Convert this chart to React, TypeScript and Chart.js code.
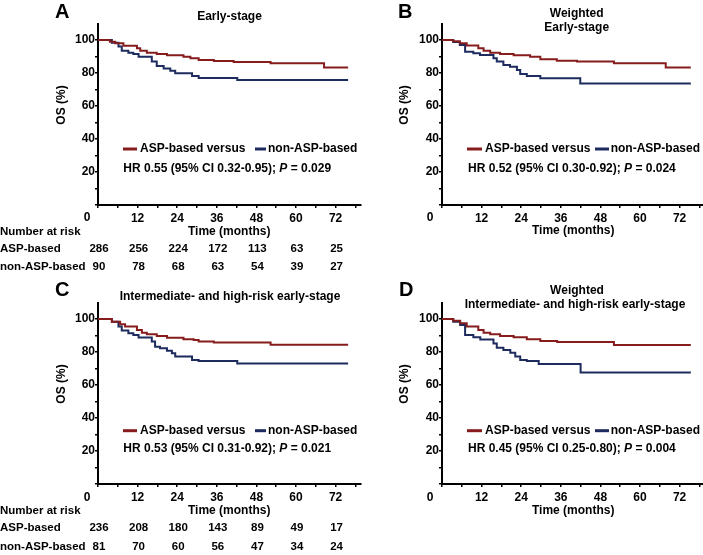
import React, { useEffect, useRef } from 'react';
import { Chart, registerables } from 'chart.js';

Chart.register(...registerables);

const FONT = '"Liberation Sans", Arial, Helvetica, sans-serif';
const RED = '#861c1c';
const BLUE = '#1d2b5e';

// ---------- shared labels ----------
const groupLabels = ['ASP-based versus', 'non-ASP-based'];
const riskRowLabels = ['Number at risk', 'ASP-based', 'non-ASP-based'];
const riskTimes = [0, 12, 24, 36, 48, 60, 72];
const xTickValues = [0, 6, 12, 18, 24, 30, 36, 42, 48, 54, 60, 66, 72, 78];
const yTickValues = [0, 10, 20, 30, 40, 50, 60, 70, 80, 90, 100];
const X_MAX = 79.5;
const Y_MAX = 110;

// ---------- Panel A: Early-stage ----------
const titleA = ['Early-stage'];
const redA_t = [0, 3.6, 5.2, 7.7, 11.8, 12.8, 14.8, 17.8, 20.9, 25.9, 28.0, 30.5, 35.1, 41.1, 52.3, 68.5, 75.8];
const redA_s = [100, 99.0, 98.0, 96.5, 95.0, 93.5, 92.3, 91.5, 90.7, 89.9, 88.9, 87.9, 87.3, 86.7, 85.9, 83.4, 83.4];
const blueA_t = [0, 4.2, 6.2, 7.2, 9.2, 10.7, 12.3, 16.3, 17.8, 19.9, 21.9, 23.4, 28.5, 30.5, 42.2, 75.8];
const blueA_s = [100, 98.4, 96.0, 93.5, 92.3, 91.5, 89.9, 86.9, 84.2, 82.8, 81.4, 79.8, 78.2, 77.0, 75.8, 75.8];
const hrA = ['HR 0.55 (95% CI 0.32-0.95); ', 'P', ' = 0.029'];
const riskA_asp = [286, 256, 224, 172, 113, 63, 25];
const riskA_non = [90, 78, 68, 63, 54, 39, 27];

// ---------- Panel B: Weighted Early-stage ----------
const titleB = ['Weighted', 'Early-stage'];
const redB_t = [0, 3.4, 5.4, 7.5, 11.0, 12.6, 14.6, 17.6, 21.7, 26.7, 29.8, 34.8, 40.9, 52.1, 67.8, 75.4];
const redB_s = [100, 99.2, 98.0, 96.6, 95.0, 93.5, 92.3, 91.5, 90.7, 89.9, 88.3, 87.5, 86.9, 85.9, 83.4, 83.4];
const blueB_t = [0, 3.4, 5.4, 7.0, 9.5, 11.5, 15.6, 16.6, 18.6, 20.6, 22.7, 23.7, 25.7, 29.8, 41.9, 75.4];
const blueB_s = [100, 98.8, 97.0, 92.9, 91.9, 90.9, 88.9, 86.9, 84.8, 83.8, 81.8, 79.4, 78.2, 76.8, 73.7, 73.7];
const hrB = ['HR 0.52 (95% CI 0.30-0.92); ', 'P', ' = 0.024'];

// ---------- Panel C: Intermediate- and high-risk early-stage ----------
const titleC = ['Intermediate- and high-risk early-stage'];
const redC_t = [0, 4.2, 6.7, 8.2, 11.8, 13.3, 14.8, 17.8, 20.9, 25.9, 29.0, 30.5, 35.1, 52.3, 75.8];
const redC_s = [100, 98.4, 96.8, 95.4, 93.3, 91.7, 90.7, 89.7, 88.6, 87.8, 87.3, 86.3, 85.7, 84.4, 84.4];
const blueC_t = [0, 4.2, 6.2, 7.2, 9.2, 10.7, 12.3, 16.3, 17.3, 18.8, 20.9, 22.4, 23.4, 28.5, 30.5, 42.2, 75.8];
const blueC_s = [100, 98.4, 95.4, 93.0, 91.3, 90.3, 88.8, 86.3, 83.2, 82.2, 80.8, 79.2, 77.2, 75.2, 74.5, 73.1, 73.1];
const hrC = ['HR 0.53 (95% CI 0.31-0.92); ', 'P', ' = 0.021'];
const riskC_asp = [236, 208, 180, 143, 89, 49, 17];
const riskC_non = [81, 70, 60, 56, 47, 34, 24];

// ---------- Panel D: Weighted intermediate- and high-risk ----------
const titleD = ['Weighted', 'Intermediate- and high-risk early-stage'];
const redD_t = [0, 3.4, 5.5, 7.5, 11.0, 12.6, 14.6, 17.6, 21.7, 25.7, 29.8, 34.9, 52.1, 75.4];
const redD_s = [100, 99.0, 97.4, 95.4, 93.3, 91.7, 90.7, 89.7, 88.9, 87.8, 86.6, 86.0, 84.2, 84.2];
const blueD_t = [0, 3.4, 5.5, 7.0, 9.5, 11.6, 15.6, 16.6, 18.6, 20.7, 22.2, 23.7, 25.7, 29.3, 42.0, 75.4];
const blueD_s = [100, 98.4, 96.4, 90.3, 88.9, 87.6, 85.2, 82.6, 81.2, 79.6, 77.2, 75.2, 74.5, 72.8, 67.6, 67.6];
const hrD = ['HR 0.45 (95% CI 0.25-0.80); ', 'P', ' = 0.004'];

type PanelCfg = {
  left: number; top: number; w: number; h: number;
  plotLeft: number; plotTop: number; plotBottom: number; plotWidth: number;
  letter: string; letterX: number; letterY: number;
  titles: string[]; titleX: number[]; titleY: number[];
  osX: number; osY: number;
  legY: number; redSeg: [number, number]; redTextX: number; blueSeg: [number, number]; blueTextX: number;
  hr: string[]; hrX: number; hrY: number;
  zeroX: number; zeroY: number; timeY: number;
  redT: number[]; redS: number[]; blueT: number[]; blueS: number[];
  risk?: { asp: number[]; non: number[]; y: number[] };
};

const PLOT_W = X_MAX * 3.3;

const panels: PanelCfg[] = [
  {
    left: 0, top: 0, w: 362, h: 280, plotLeft: 98, plotTop: 23.5, plotBottom: 205, plotWidth: PLOT_W,
    letter: 'A', letterX: 55, letterY: 12,
    titles: titleA, titleX: [229.5], titleY: [17],
    osX: 62, osY: 105,
    legY: 149, redSeg: [123, 137], redTextX: 140, blueSeg: [255, 266], blueTextX: 268,
    hr: hrA, hrX: 123.3, hrY: 168.5,
    zeroX: 87, zeroY: 218, timeY: 231.7,
    redT: redA_t, redS: redA_s, blueT: blueA_t, blueS: blueA_s,
    risk: { asp: riskA_asp, non: riskA_non, y: [231.7, 249.3, 267.3] },
  },
  {
    left: 352, top: 0, w: 353, h: 280, plotLeft: 90, plotTop: 23.5, plotBottom: 205, plotWidth: PLOT_W,
    letter: 'B', letterX: 46, letterY: 12,
    titles: titleB, titleX: [224.7, 224.7], titleY: [14, 28],
    osX: 53, osY: 105,
    legY: 149, redSeg: [115, 130], redTextX: 133, blueSeg: [243, 257], blueTextX: 258.7,
    hr: hrB, hrX: 116, hrY: 168.3,
    zeroX: 78, zeroY: 218, timeY: 230.7,
    redT: redB_t, redS: redB_s, blueT: blueB_t, blueS: blueB_s,
  },
  {
    left: 0, top: 280, w: 362, h: 275, plotLeft: 98, plotTop: 22.5, plotBottom: 204, plotWidth: PLOT_W,
    letter: 'C', letterX: 55, letterY: 10,
    titles: titleC, titleX: [230], titleY: [17],
    osX: 62, osY: 104,
    legY: 150.7, redSeg: [123, 137], redTextX: 140, blueSeg: [255, 266], blueTextX: 268,
    hr: hrC, hrX: 123.3, hrY: 168.3,
    zeroX: 87, zeroY: 217.7, timeY: 230.7,
    redT: redC_t, redS: redC_s, blueT: blueC_t, blueS: blueC_s,
    risk: { asp: riskC_asp, non: riskC_non, y: [230.7, 248.3, 266.7] },
  },
  {
    left: 352, top: 280, w: 353, h: 275, plotLeft: 90, plotTop: 22.5, plotBottom: 204, plotWidth: PLOT_W,
    letter: 'D', letterX: 47, letterY: 10,
    titles: titleD, titleX: [225, 223], titleY: [11, 25],
    osX: 53, osY: 104,
    legY: 150.7, redSeg: [115, 130], redTextX: 133, blueSeg: [243, 257], blueTextX: 258.7,
    hr: hrD, hrX: 116, hrY: 168.3,
    zeroX: 78, zeroY: 217.7, timeY: 230.7,
    redT: redD_t, redS: redD_s, blueT: blueD_t, blueS: blueD_s,
  },
];

const toPoints = (t: number[], s: number[]) => t.map((x, i) => ({ x, y: s[i] }));

function makeTextPlugin(p: PanelCfg) {
  return {
    id: 'panelText',
    afterDraw(chart: any) {
      const ctx: CanvasRenderingContext2D = chart.ctx;
      const b12 = `bold 12px ${FONT}`;
      ctx.save();
      ctx.fillStyle = '#000';
      ctx.textBaseline = 'middle';

      // panel letter
      ctx.font = `bold 20px ${FONT}`;
      ctx.textAlign = 'left';
      ctx.fillText(p.letter, p.letterX, p.letterY);

      // titles
      ctx.font = b12;
      ctx.textAlign = 'center';
      p.titles.forEach((t, i) => ctx.fillText(t, p.titleX[i], p.titleY[i]));

      // y axis title
      ctx.save();
      ctx.translate(p.osX, p.osY);
      ctx.rotate(-Math.PI / 2);
      ctx.fillText('OS (%)', 0, 0);
      ctx.restore();

      // origin label and x title
      ctx.fillText('0', p.zeroX, p.zeroY);
      const ca = chart.chartArea;
      ctx.fillText('Time (months)', (ca.left + ca.right) / 2, p.timeY);

      // legend
      const ds = chart.data.datasets;
      ctx.lineWidth = 3;
      ctx.lineCap = 'butt';
      ctx.strokeStyle = ds[0].borderColor;
      ctx.beginPath();
      ctx.moveTo(p.redSeg[0], p.legY);
      ctx.lineTo(p.redSeg[1], p.legY);
      ctx.stroke();
      ctx.strokeStyle = ds[1].borderColor;
      ctx.beginPath();
      ctx.moveTo(p.blueSeg[0], p.legY);
      ctx.lineTo(p.blueSeg[1], p.legY);
      ctx.stroke();
      ctx.textAlign = 'left';
      ctx.fillText(ds[0].label, p.redTextX, p.legY);
      ctx.fillText(ds[1].label, p.blueTextX, p.legY);

      // HR text
      let x = p.hrX;
      p.hr.forEach((part, i) => {
        ctx.font = i === 1 ? `italic bold 12px ${FONT}` : b12;
        ctx.fillText(part, x, p.hrY);
        x += ctx.measureText(part).width;
      });

      // number at risk table
      if (p.risk) {
        ctx.font = `bold 11.5px ${FONT}`;
        ctx.textAlign = 'left';
        riskRowLabels.forEach((lab, i) => ctx.fillText(lab, 0, p.risk!.y[i]));
        ctx.textAlign = 'center';
        const xs = chart.scales.x;
        riskTimes.forEach((t, i) => {
          const px = xs.getPixelForValue(t) + 1;
          ctx.fillText(String(p.risk!.asp[i]), px, p.risk!.y[1]);
          ctx.fillText(String(p.risk!.non[i]), px, p.risk!.y[2]);
        });
      }
      ctx.restore();
    },
  };
}

function Panel({ p }: { p: PanelCfg }) {
  const ref = useRef<HTMLCanvasElement | null>(null);
  useEffect(() => {
    if (!ref.current) return;
    const tickFont = { family: FONT, size: 12, weight: 'bold' as const };
    const chart = new Chart(ref.current, {
      type: 'line',
      data: {
        datasets: [
          {
            label: groupLabels[0],
            data: toPoints(p.redT, p.redS),
            borderColor: RED,
            borderWidth: 2,
            stepped: 'before',
            pointRadius: 0,
            fill: false,
          },
          {
            label: groupLabels[1],
            data: toPoints(p.blueT, p.blueS),
            borderColor: BLUE,
            borderWidth: 2,
            stepped: 'before',
            pointRadius: 0,
            fill: false,
          },
        ],
      },
      options: {
        responsive: false,
        animation: false,
        devicePixelRatio: 1,
        layout: {
          padding: { left: 0, top: p.plotTop, right: p.w - p.plotLeft - p.plotWidth, bottom: 0 },
        },
        plugins: {
          legend: { display: false },
          tooltip: { enabled: false },
          title: { display: false },
        },
        scales: {
          x: {
            type: 'linear',
            min: 0,
            max: X_MAX,
            afterFit: (s: any) => { s.height = p.h - p.plotBottom; },
            afterBuildTicks: (s: any) => { s.ticks = xTickValues.map((v) => ({ value: v })); },
            ticks: {
              autoSkip: false,
              maxRotation: 0,
              padding: 3,
              color: '#000',
              font: tickFont,
              callback: (v: any) => (v > 0 && v % 12 === 0 ? String(v) : ''),
            },
            grid: { drawOnChartArea: false, drawTicks: true, tickLength: 3, color: '#000', lineWidth: 1.5 },
            border: { display: true, color: '#000', width: 2 },
          },
          y: {
            type: 'linear',
            min: 0,
            max: Y_MAX,
            afterFit: (s: any) => { s.width = p.plotLeft; },
            afterBuildTicks: (s: any) => { s.ticks = yTickValues.map((v) => ({ value: v })); },
            ticks: {
              padding: 0,
              color: '#000',
              font: tickFont,
              callback: (v: any) => (v > 0 && v % 20 === 0 ? String(v) : ''),
            },
            grid: { drawOnChartArea: false, drawTicks: true, tickLength: 3, color: '#000', lineWidth: 1.5 },
            border: { display: true, color: '#000', width: 2 },
          },
        },
      } as any,
      plugins: [makeTextPlugin(p)],
    });
    return () => chart.destroy();
  }, [p]);
  return (
    <canvas
      ref={ref}
      width={p.w}
      height={p.h}
      style={{ position: 'absolute', left: p.left, top: p.top, width: p.w, height: p.h }}
    />
  );
}

export default function App() {
  return (
    <div
      style={{
        position: 'fixed', left: 0, top: 0, width: 703, height: 555,
        overflow: 'hidden', background: '#fff',
      }}
    >
      {panels.map((p, i) => (
        <Panel key={i} p={p} />
      ))}
    </div>
  );
}
